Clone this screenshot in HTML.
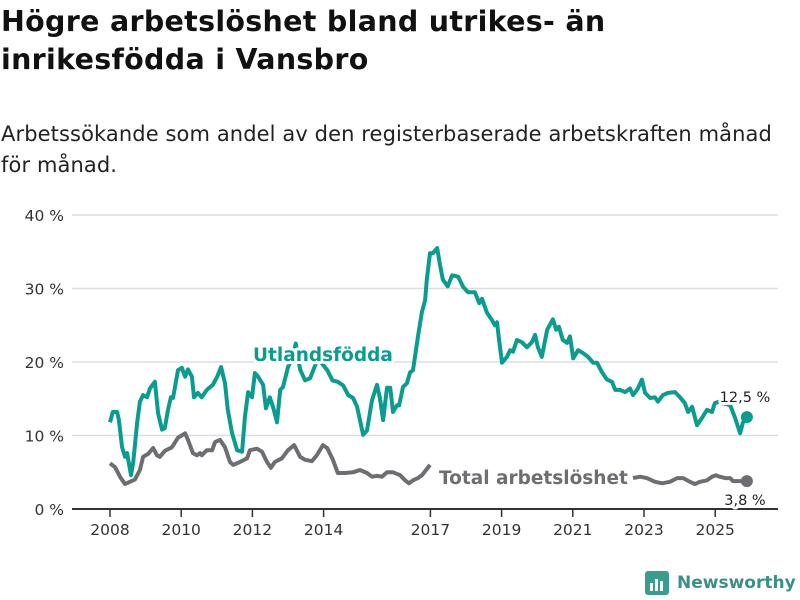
<!DOCTYPE html>
<html><head><meta charset="utf-8"><style>
body{margin:0;background:#fff;width:800px;height:600px;overflow:hidden;font-family:"DejaVu Sans","Liberation Sans",sans-serif;color:#111}
#title{position:absolute;left:1px;top:3px;font-size:28.5px;font-weight:bold;line-height:38px;margin:0;letter-spacing:0.3px}
#sub{position:absolute;left:1px;top:119px;font-size:21px;line-height:31px;color:#222;margin:0;letter-spacing:0.1px;white-space:nowrap}
svg{position:absolute;left:0;top:0}
svg text{font-family:"DejaVu Sans","Liberation Sans",sans-serif}
</style></head><body>
<h1 id="title">Högre arbetslöshet bland utrikes- än<br>inrikesfödda i Vansbro</h1>
<p id="sub">Arbetssökande som andel av den registerbaserade arbetskraften månad<br>för månad.</p>
<svg id="chart" width="800" height="600"></svg>
<script>
const baseYear = 2008;
const yTicks = [0, 10, 20, 30, 40];
const yTickLabels = ["0 %", "10 %", "20 %", "30 %", "40 %"];
const xTicks = [2008, 2010, 2012, 2014, 2017, 2019, 2021, 2023, 2025];
const tUtl = [0,.08,.2,.25,.34,.42,.48,.59,.65,.76,.84,.93,1.04,1.12,1.26,1.35,1.46,1.54,1.63,1.71,1.77,1.91,2.02,2.11,2.19,2.3,2.36,2.47,2.58,2.72,2.89,3.01,3.12,3.23,3.31,3.43,3.57,3.71,3.79,3.88,3.99,4.07,4.16,4.3,4.38,4.49,4.58,4.69,4.78,4.86,5.0,5.11,5.22,5.34,5.48,5.62,5.84,6.1,6.25,6.4,6.55,6.69,6.83,6.94,7.11,7.22,7.36,7.5,7.58,7.67,7.78,7.87,7.95,8.06,8.12,8.23,8.34,8.43,8.51,8.65,8.76,8.85,8.9,8.99,9.07,9.19,9.27,9.35,9.49,9.61,9.78,9.92,10.06,10.25,10.37,10.45,10.59,10.73,10.81,10.87,10.93,11.01,11.15,11.24,11.32,11.43,11.57,11.71,11.85,11.94,12.02,12.13,12.28,12.44,12.53,12.61,12.72,12.84,12.92,13.01,13.15,13.29,13.43,13.57,13.68,13.82,13.96,14.1,14.19,14.33,14.47,14.61,14.69,14.83,14.94,15.03,15.17,15.31,15.39,15.53,15.67,15.87,16.01,16.15,16.24,16.35,16.49,16.63,16.77,16.91,16.99,17.11,17.19,17.3,17.42,17.56,17.7,17.78,17.89];
const vUtl = [11.8,13.2,13.2,12.1,8.4,7.1,7.6,4.6,6.2,11.7,14.6,15.5,15.2,16.4,17.3,13,10.8,11,13.5,15.2,15.1,18.9,19.2,18,19,18,15.2,15.8,15.2,16.2,16.9,18,19.3,17.1,13.5,10.3,8,7.8,12.5,15.9,15.2,18.5,18,16.9,13.7,15.2,13.9,11.8,16.2,16.6,19.3,20.5,22.5,19,17.5,17.8,20.5,18.9,17.5,17.3,16.8,15.5,15.1,13.9,10.1,10.7,14.8,16.9,15.2,12.1,16.5,16.5,13.2,14.1,14.1,16.6,17.1,18.6,18.9,23.4,26.8,28.4,31.2,34.8,34.8,35.5,33.2,31.2,30.3,31.8,31.6,30.2,29.5,29.5,28,28.6,26.7,25.7,25,25.4,23,19.9,20.7,21.6,21.4,23,22.7,22,22.7,23.7,22,20.7,24.4,25.8,24.4,24.8,23,22.6,23.5,20.5,21.6,21.2,20.7,19.9,19.9,18.6,17.6,17.3,16.2,16.2,15.9,16.4,15.5,16.4,17.6,15.8,15.1,15.2,14.6,15.5,15.8,15.9,15.2,14.4,13.2,13.9,11.4,12.4,13.5,13.2,14.4,14.6,14.4,14.3,14.1,12.4,10.3,11.8,12.5];
const tTot = [0,.14,.28,.42,.56,.7,.84,.93,1.07,1.21,1.32,1.4,1.54,1.74,1.91,2.11,2.19,2.33,2.44,2.53,2.58,2.72,2.87,2.95,3.09,3.23,3.37,3.46,3.65,3.85,3.93,4.13,4.27,4.41,4.52,4.63,4.83,5.0,5.17,5.34,5.48,5.67,5.81,5.98,6.1,6.26,6.4,6.6,6.83,7.02,7.22,7.36,7.5,7.64,7.78,7.95,8.15,8.29,8.4,8.51,8.65,8.76,8.88,8.99,14.69,14.89,15.08,15.31,15.51,15.73,15.93,16.1,16.29,16.43,16.57,16.77,16.91,17.02,17.13,17.28,17.42,17.5,17.7,17.89];
const vTot = [6.2,5.7,4.4,3.4,3.7,4.0,5.3,7.1,7.5,8.3,7.3,7.1,7.9,8.4,9.7,10.3,9.4,7.6,7.3,7.6,7.3,8,8,9.1,9.4,8.4,6.4,6.0,6.4,6.9,8,8.2,7.8,6.4,5.6,6.4,6.9,8,8.7,7.1,6.7,6.5,7.3,8.7,8.3,6.7,4.9,4.9,5.0,5.3,4.9,4.4,4.5,4.4,5.0,5.0,4.6,3.9,3.5,3.9,4.2,4.6,5.3,6.0,4.2,4.4,4.2,3.7,3.5,3.7,4.2,4.2,3.7,3.4,3.7,3.9,4.4,4.6,4.4,4.2,4.2,3.8,3.8,3.8];

const NS="http://www.w3.org/2000/svg";
const svg=document.getElementById('chart');
const X0=110, PXY=35.6, Y0=509, PXV=7.35;
function xs(t){return X0+t*PXY;}
function xYear(y){return xs(y-baseYear);}
function ys(v){return Y0-v*PXV;}
function mk(tag,attrs,parent){const e=document.createElementNS(NS,tag);for(const k in attrs)e.setAttribute(k,attrs[k]);(parent||svg).appendChild(e);return e;}

yTicks.forEach((v,i)=>{
  const g=mk('line',{x1:72,x2:778,y1:ys(v),y2:ys(v),stroke:v===0?'#333':'#ddd','stroke-width':v===0?2:1.5});
  
  
  const t=mk('text',{x:64,y:ys(v)+6,'text-anchor':'end','font-size':15.5,fill:'#333'});
  t.textContent=yTickLabels[i];
  
  
});
xTicks.forEach(yr=>{
  const l=mk('line',{x1:xYear(yr),x2:xYear(yr),y1:510,y2:517,stroke:'#333','stroke-width':1.5});
  
  
  const t=mk('text',{x:xYear(yr),y:535,'text-anchor':'middle','font-size':15.5,fill:'#333'});
  t.textContent=yr;
  
  
});
function path(ts,vs){return ts.map((t,i)=>((i===0||t-ts[i-1]>1)?'M':'L')+xs(t).toFixed(1)+','+ys(vs[i]).toFixed(1)).join('');}
const pT=mk('path',{d:path(tTot,vTot),fill:'none',stroke:'#6e6d72','stroke-width':4,'stroke-linejoin':'round'});


const pU=mk('path',{d:path(tUtl,vUtl),fill:'none',stroke:'#0a9c8f','stroke-width':4,'stroke-linejoin':'round'});


const eU=mk('circle',{cx:xs(tUtl[tUtl.length-1]),cy:ys(vUtl[vUtl.length-1]),r:6,fill:'#0a9c8f'});


const eT=mk('circle',{cx:xs(tTot[tTot.length-1]),cy:ys(vTot[vTot.length-1]),r:6,fill:'#6e6d72'});


function lab(x,y,txt,fill,size,weight,anchor,name){
  const t=mk('text',{x:x,y:y,'font-size':size,'font-weight':weight,fill:fill,'text-anchor':anchor,stroke:'#fff','stroke-width':6,'paint-order':'stroke','stroke-linejoin':'round'});
  t.textContent=txt;
}
lab(253,361,'Utlandsfödda','#0a9c8f',18.5,'bold','start','utlandsfodda-label');
lab(439,484,'Total arbetslöshet','#6e6d72',18.5,'bold','start','total-label');
lab(745,402,'12,5 %','#222',14.5,'normal','middle','utlandsfodda-end-value');
lab(745,505,'3,8 %','#222',14.5,'normal','middle','total-end-value');
</script>
<div style="position:absolute;left:644px;top:570px;display:flex;align-items:center">
<svg width="26" height="26" style="position:static"><rect x="1" y="1" width="24" height="24" rx="3" fill="#3a9c8f"/><rect x="6" y="13" width="3" height="8" fill="#fff"/><rect x="11" y="9" width="3" height="12" fill="#fff"/><rect x="16" y="11" width="3" height="10" fill="#fff"/></svg>
<span style="font-size:17px;font-weight:bold;color:#3a8f86;margin-left:7px">Newsworthy</span></div>
</body></html>
